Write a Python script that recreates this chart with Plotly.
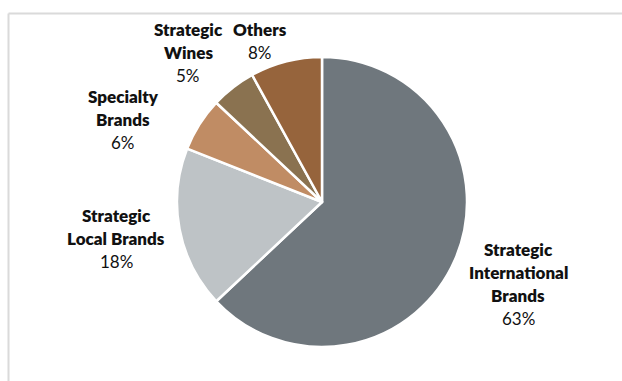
import plotly.graph_objects as go

# Segment mix
categories = ["Strategic International Brands", "Strategic Local Brands",
              "Specialty Brands", "Strategic Wines", "Others"]
label_lines = [["Strategic", "International", "Brands"],
               ["Strategic", "Local Brands"],
               ["Specialty", "Brands"],
               ["Strategic", "Wines"],
               ["Others"]]
shares = [63, 18, 6, 5, 8]
colors = ["#6f777d", "#bec3c6", "#c08c64", "#8a7250", "#96643c"]

W, H = 622, 381
LINE = 23  # label line pitch in px

# label block centres in pixels (x, y from top)
label_pos = [(518, 284), (116, 238), (123, 119), (188, 52), (260, 41)]

fig = go.Figure(go.Pie(
    labels=categories,
    values=shares,
    sort=False,
    direction="clockwise",
    rotation=0,
    marker=dict(colors=colors, line=dict(color="white", width=2.5)),
    textinfo="none",
    hoverinfo="label+percent",
    showlegend=False,
    domain=dict(x=[(322 - 145) / W, (322 + 145) / W],
                y=[1 - (202 + 145) / H, 1 - (202 - 145) / H]),
))

annotations = []
for lines, val, (px, py) in zip(label_lines, shares, label_pos):
    rows = [(ln, 800) for ln in lines] + [(f"{val}%", 400)]
    top = py - LINE * (len(rows) - 1) / 2
    for i, (txt, wt) in enumerate(rows):
        annotations.append(dict(
            x=px / W, y=1 - (top + i * LINE) / H, xref="paper", yref="paper",
            xanchor="center", yanchor="middle", align="center",
            showarrow=False, text=txt,
            font=dict(family="Lato, sans-serif", size=17, color="#111111",
                      weight=wt),
        ))

fig.update_layout(
    width=W, height=H,
    margin=dict(l=0, r=0, t=0, b=0),
    paper_bgcolor="white",
    plot_bgcolor="white",
    annotations=annotations,
    shapes=[
        dict(type="line", xref="paper", yref="paper",
             x0=8.5 / W, x1=1.0, y0=1 - 13.5 / H, y1=1 - 13.5 / H,
             line=dict(color="#dadada", width=2)),
        dict(type="line", xref="paper", yref="paper",
             x0=8.5 / W, x1=8.5 / W, y0=1 - 13.5 / H, y1=0,
             line=dict(color="#dadada", width=2)),
    ],
)

fig.write_html("out.html")
